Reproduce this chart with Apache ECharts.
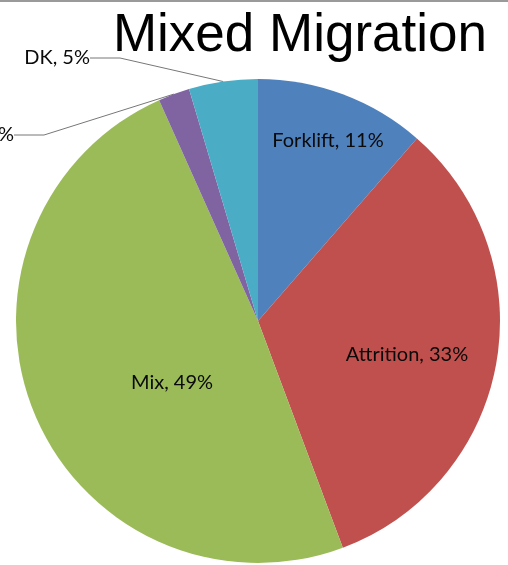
<!DOCTYPE html>
<html>
<head>
<meta charset="utf-8">
<script src="https://cdn.jsdelivr.net/npm/echarts@6/dist/echarts.min.js"></script>
<style>
  html, body { margin: 0; padding: 0; background: #fff; }
  #chart { width: 508px; height: 565px; }
</style>
</head>
<body>
<div id="chart"></div>
<script>
// slice names and shares (percent), clockwise from 12 o'clock
var names = ['Forklift', 'Attrition', 'Mix', 'Other', 'DK'];
var shares = [11.4, 32.9, 49.0, 2.1, 4.6];
var colors = ['#4F81BD', '#C0504D', '#9BBB59', '#8064A2', '#4BACC6'];
// which labels sit outside with a leader line
var outside = [false, false, false, true, true];

// label anchor points (x, y, align)
var labelPos = [
  [328, 141, 'center'],
  [407, 355, 'center'],
  [172, 383, 'center'],
  [14, 135, 'right'],
  [90, 58, 'right']
];

var myChart = echarts.init(document.getElementById('chart'));

var option = {
  animation: false,
  title: {
    text: 'Mixed Migration',
    right: 16,
    top: 5,
    textStyle: {
      fontFamily: 'Liberation Sans',
      fontSize: 53,
      fontWeight: 'normal',
      color: '#000'
    }
  },
  graphic: [{
    type: 'rect',
    shape: { x: 0, y: 0, width: 508, height: 2 },
    style: { fill: '#9a9a9a' }
  }],
  series: [{
    type: 'pie',
    center: [258, 321],
    radius: 242,
    startAngle: 90,
    clockwise: true,
    avoidLabelOverlap: false,
    itemStyle: { borderWidth: 0 },
    label: {
      fontFamily: 'Lato',
      fontSize: 20,
      color: '#0a0a0a',
      formatter: function (p) {
        return p.name + ', ' + Math.round(p.percent) + '%';
      }
    },
    labelLine: {
      lineStyle: { color: '#777', width: 1 }
    },
    labelLayout: function (params) {
      var p = labelPos[params.dataIndex];
      return { x: p[0], y: p[1], align: p[2], verticalAlign: 'middle' };
    },
    data: names.map(function (n, i) {
      return {
        name: n,
        value: shares[i],
        itemStyle: { color: colors[i] },
        label: { position: outside[i] ? 'outside' : 'inside' },
        labelLine: { show: outside[i] }
      };
    })
  }]
};

myChart.setOption(option);
window.addEventListener('resize', function () {
  myChart.resize();
});
</script>
</body>
</html>
